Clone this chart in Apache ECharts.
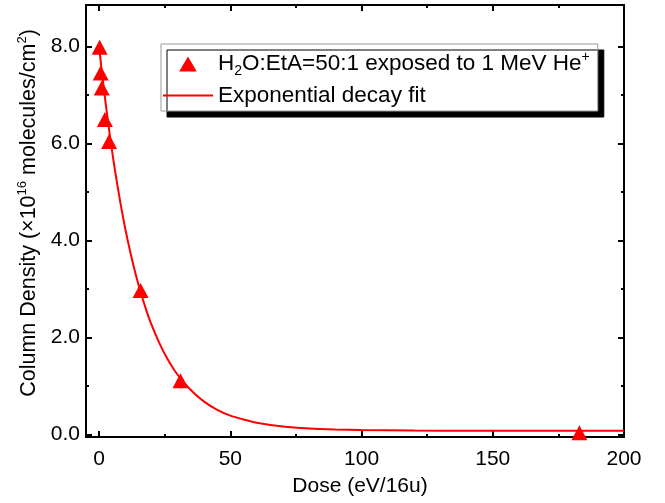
<!DOCTYPE html>
<html>
<head>
<meta charset="utf-8">
<script src="https://cdn.jsdelivr.net/npm/echarts@6/dist/echarts.min.js"></script>
<style>
html,body{margin:0;padding:0;background:#fff;}
#chart{width:665px;height:503px;}
</style>
</head>
<body>
<div id="chart"></div>
<script>
// Measured data (triangles)
const doses = [0.2, 0.6, 1.0, 2.2, 3.8, 15.8, 31.0, 183];
const densities = [7.98, 7.45, 7.14, 6.49, 6.04, 2.97, 1.11, 0.04];
// Exponential decay fit curve
const fitDoses = [0, 1, 2, 3, 4, 5, 6, 8, 10, 12, 14, 16, 18, 20, 23, 26, 29, 32, 36, 40, 45, 50, 55, 60, 70, 80, 90, 100, 120, 140, 160, 180, 200];
const fitValues = [8.00, 7.50, 7.04, 6.61, 6.20, 5.82, 5.46, 4.81, 4.23, 3.73, 3.29, 2.90, 2.56, 2.26, 1.88, 1.56, 1.30, 1.09, 0.86, 0.68, 0.51, 0.39, 0.31, 0.245, 0.166, 0.125, 0.104, 0.093, 0.083, 0.08, 0.08, 0.08, 0.08];
// Axis ticks
const xTicks = [0, 50, 100, 150, 200];
const xMinorTicks = [25, 75, 125, 175];
const yTicks = [0, 2, 4, 6, 8];
const yMinorTicks = [1, 3, 5, 7];
const xRange = [-5, 200];
const yRange = [-0.05, 8.85];

const FONT = 'Liberation Sans, Arial, sans-serif';
const chart = echarts.init(document.getElementById('chart'), null, {renderer: 'canvas'});

function xAxisDef(pos, ticks, len, labels) {
  return {
    type: 'value', position: pos, min: xRange[0], max: xRange[1], offset: 0,
    splitLine: {show: false},
    axisLine: {show: true, onZero: false, lineStyle: {color: '#000', width: 2}},
    axisTick: {show: true, inside: true, length: len, customValues: ticks, lineStyle: {color: '#000', width: 2}},
    axisLabel: labels ? {show: true, customValues: ticks, margin: 12, fontSize: 21, color: '#000', fontFamily: FONT} : {show: false},
  };
}
function yAxisDef(pos, ticks, len, labels) {
  return {
    type: 'value', position: pos, min: yRange[0], max: yRange[1], offset: 0,
    splitLine: {show: false},
    axisLine: {show: true, onZero: false, lineStyle: {color: '#000', width: 2}},
    axisTick: {show: true, inside: true, length: len, customValues: ticks, lineStyle: {color: '#000', width: 2}},
    axisLabel: labels ? {show: true, customValues: ticks, margin: 6, fontSize: 21, color: '#000', fontFamily: FONT,
      formatter: v => v.toFixed(1)} : {show: false},
  };
}

const xAxes = [
  Object.assign(xAxisDef('bottom', xTicks, 6, true), {
    name: 'Dose (eV/16u)', nameLocation: 'middle', nameGap: 39,
    nameTextStyle: {fontSize: 21, color: '#000', fontFamily: FONT, padding: [0, 0, 0, 10]}
  }),
  xAxisDef('bottom', xMinorTicks, 3, false),
  xAxisDef('top', xTicks, 6, false),
  xAxisDef('top', xMinorTicks, 3, false),
];
const yAxes = [
  Object.assign(yAxisDef('left', yTicks, 6, true), {
    name: '{n|Column Density (×10}{sup|16}{n| molecules/cm}{sup|2}{n|)}',
    nameLocation: 'middle', nameGap: 43,
    nameTextStyle: {
      color: '#000', fontFamily: FONT, padding: [0, 0, 0, 16],
      rich: {
        n: {fontSize: 21.5, lineHeight: 26, color: '#000', fontFamily: FONT},
        sup: {fontSize: 13, lineHeight: 13, verticalAlign: 'top', color: '#000', fontFamily: FONT}
      }
    }
  }),
  yAxisDef('left', yMinorTicks, 3, false),
  yAxisDef('right', yTicks, 6, false),
  yAxisDef('right', yMinorTicks, 3, false),
];

const option = {
  animation: false,
  backgroundColor: '#fff',
  grid: {left: 86, right: 41, top: 5, bottom: 66, containLabel: false},
  xAxis: xAxes,
  yAxis: yAxes,
  legend: {
    orient: 'vertical',
    left: 161, top: 44,
    padding: [6, 8, 4, 2],
    itemGap: 6,
    itemWidth: 50, itemHeight: 15,
    symbolKeepAspect: true,
    backgroundColor: '#fff',
    borderColor: '#999', borderWidth: 1,
    shadowColor: '#000', shadowBlur: 0, shadowOffsetX: 6, shadowOffsetY: 6,
    data: [
      {name: 'data', icon: 'path://M10,0 L20,17 L0,17 Z', itemStyle: {color: '#ff0000', opacity: 1}},
      {name: 'fit', icon: 'path://M0,0 L50,0 L50,2 L0,2 Z', itemStyle: {color: '#ff0000', opacity: 1}}
    ],
    formatter: function (name) {
      if (name === 'data') return '{n|H}{sub|2}{n|O:EtA=50:1 exposed to 1 MeV He}{sup|+}';
      return '{n|Exponential decay fit}';
    },
    textStyle: {
      color: '#000', fontFamily: FONT,
      rich: {
        n: {fontSize: 22.5, lineHeight: 28, color: '#000', fontFamily: FONT},
        sub: {fontSize: 14, lineHeight: 14, verticalAlign: 'bottom', color: '#000', fontFamily: FONT},
        sup: {fontSize: 14, lineHeight: 16, verticalAlign: 'top', color: '#000', fontFamily: FONT}
      }
    }
  },
  series: [
    {
      name: 'fit', type: 'line', xAxisIndex: 0, yAxisIndex: 0,
      data: fitDoses.map((d, i) => [d, fitValues[i]]),
      smooth: 0.3, symbol: 'none', showSymbol: false,
      lineStyle: {color: '#ff0000', width: 2},
      itemStyle: {color: '#ff0000'},
      z: 2
    },
    {
      name: 'data', type: 'scatter', xAxisIndex: 0, yAxisIndex: 0,
      data: doses.map((d, i) => [d, densities[i]]),
      symbol: 'triangle', symbolSize: [16, 15],
      itemStyle: {color: '#ff0000', opacity: 1},
      z: 3
    }
  ]
};
chart.setOption(option);
</script>
</body>
</html>
